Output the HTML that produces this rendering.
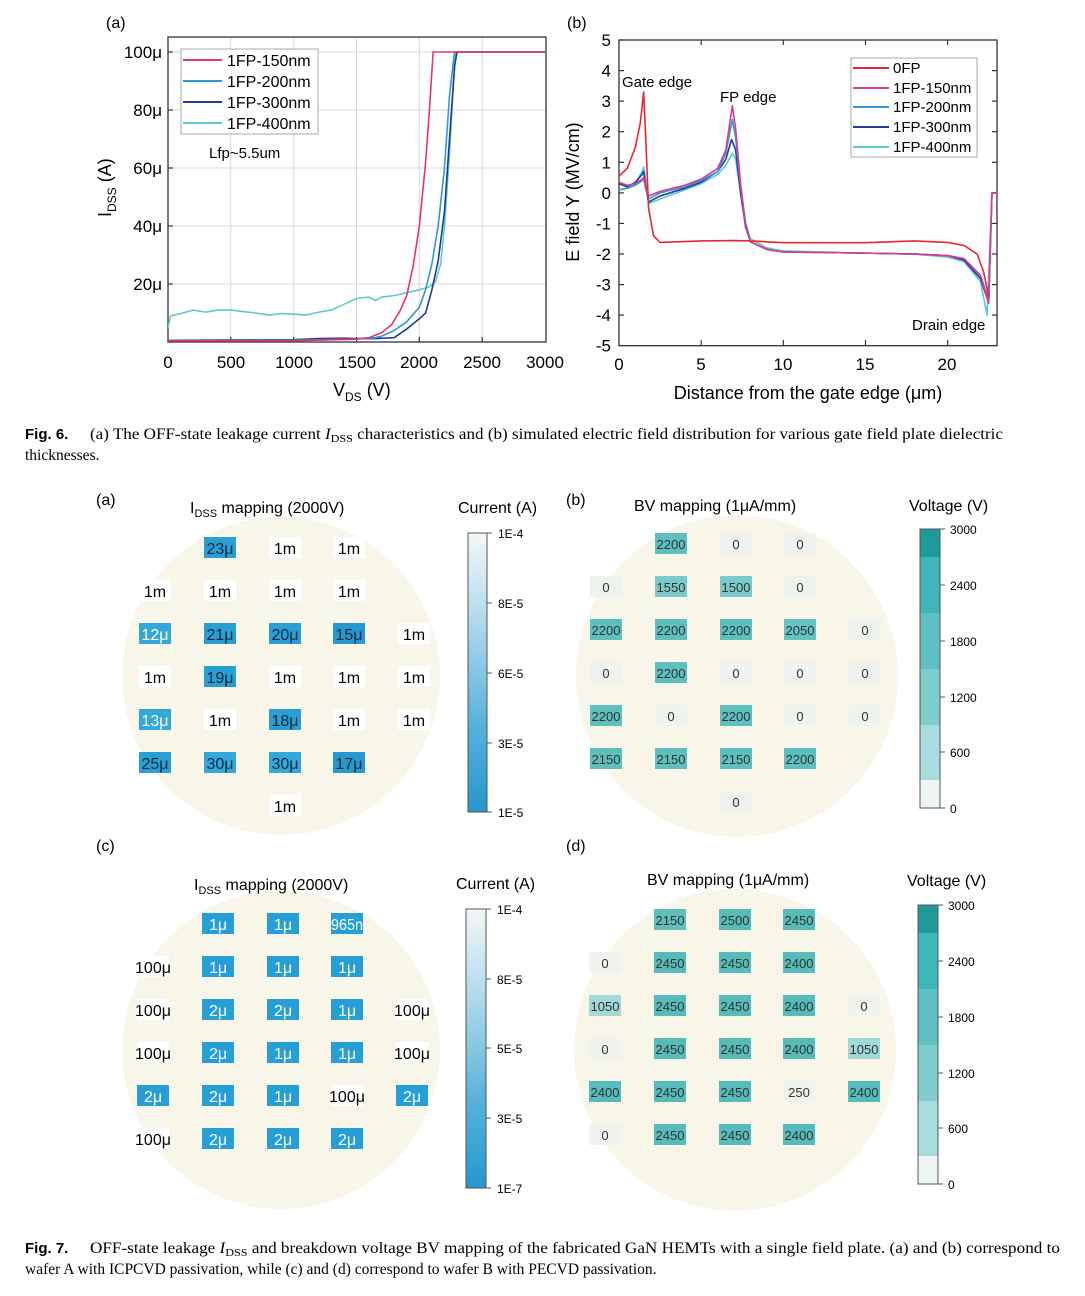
<!DOCTYPE html>
<html><head><meta charset="utf-8">
<style>
html,body{margin:0;padding:0;background:#fff;}
svg{display:block;}
text{font-family:"Liberation Sans",Arial,sans-serif;}
.serif{font-family:"Liberation Serif","Times New Roman",serif;}
</style></head>
<body>
<svg width="1085" height="1296" viewBox="0 0 1085 1296" xmlns="http://www.w3.org/2000/svg">
<defs>
<linearGradient id="gA" x1="0" y1="0" x2="0" y2="1">
<stop offset="0" stop-color="#f4f8f9"/><stop offset="0.35" stop-color="#a9d6ea"/><stop offset="0.7" stop-color="#54b1dc"/><stop offset="1" stop-color="#2597cf"/>
</linearGradient>
<clipPath id="cpA"><rect x="168" y="37" width="378" height="306"/></clipPath>
<clipPath id="cpB"><rect x="619" y="40" width="378" height="306"/></clipPath>
</defs>

<!-- ================= Fig 6 (a) ================= -->
<text x="106" y="28" font-size="16">(a)</text>
<g stroke="#d8d8d8" stroke-width="1">
<line x1="230.8" y1="37" x2="230.8" y2="342"/><line x1="293.7" y1="37" x2="293.7" y2="342"/><line x1="356.5" y1="37" x2="356.5" y2="342"/><line x1="419.3" y1="37" x2="419.3" y2="342"/><line x1="482.2" y1="37" x2="482.2" y2="342"/>
<line x1="168" y1="52" x2="546" y2="52"/><line x1="168" y1="110" x2="546" y2="110"/><line x1="168" y1="168" x2="546" y2="168"/><line x1="168" y1="226" x2="546" y2="226"/><line x1="168" y1="284" x2="546" y2="284"/>
</g>
<rect x="168" y="37" width="378" height="305" fill="none" stroke="#333" stroke-width="1.3"/>
<g stroke="#333" stroke-width="1.2">
<line x1="168" y1="52" x2="173" y2="52"/><line x1="168" y1="110" x2="173" y2="110"/><line x1="168" y1="168" x2="173" y2="168"/><line x1="168" y1="226" x2="173" y2="226"/><line x1="168" y1="284" x2="173" y2="284"/>
<line x1="230.8" y1="342" x2="230.8" y2="337"/><line x1="293.7" y1="342" x2="293.7" y2="337"/><line x1="356.5" y1="342" x2="356.5" y2="337"/><line x1="419.3" y1="342" x2="419.3" y2="337"/><line x1="482.2" y1="342" x2="482.2" y2="337"/>
</g>
<g font-size="17" text-anchor="end">
<text x="162" y="58">100μ</text><text x="162" y="116">80μ</text><text x="162" y="174">60μ</text><text x="162" y="232">40μ</text><text x="162" y="290">20μ</text>
</g>
<g font-size="17" text-anchor="middle">
<text x="168" y="368">0</text><text x="231" y="368">500</text><text x="294" y="368">1000</text><text x="357" y="368">1500</text><text x="419" y="368">2000</text><text x="482" y="368">2500</text><text x="545" y="368">3000</text>
</g>
<text x="333" y="396" font-size="18">V<tspan font-size="12" dy="5">DS</tspan><tspan dy="-5"> (V)</tspan></text>
<text transform="translate(111,217) rotate(-90)" font-size="18">I<tspan font-size="12" dy="5">DSS</tspan><tspan dy="-5"> (A)</tspan></text>

<g clip-path="url(#cpA)">
<g transform="translate(168,342) scale(0.12567,-2.9)" fill="none" stroke-width="1.6" stroke-linejoin="round">
<polyline vector-effect="non-scaling-stroke" stroke="#5ec8d0" points="0,5 20,9 100,9.8 200,11 300,10.3 400,11 500,11 600,10.5 700,10 800,9.3 900,9.8 1000,9.6 1100,9.3 1200,10.3 1300,11 1400,13 1500,15 1600,15.5 1650,14.3 1700,15.5 1800,16 1900,17 2000,18 2080,19 2130,21 2170,27 2200,40 2240,65 2270,88 2290,100 2400,100 3000,100"/>
<polyline vector-effect="non-scaling-stroke" stroke="#1f3b9c" points="0,0.6 1000,0.8 1200,1.2 1400,1.3 1500,1.2 1650,1.2 1800,1.5 1850,3 1900,4.5 2000,8 2050,10 2100,18 2150,28 2200,45 2240,70 2280,95 2300,100 3000,100"/>
<polyline vector-effect="non-scaling-stroke" stroke="#2e9ad6" points="0,0.5 1000,0.6 1500,1 1650,1.5 1700,2 1800,4 1900,7 2000,12 2050,18 2100,27 2150,40 2200,60 2240,85 2280,100 3000,100"/>
<polyline vector-effect="non-scaling-stroke" stroke="#e8336e" points="0,0.4 1000,0.4 1500,1 1600,1.5 1700,3.2 1780,6 1850,11 1900,16 1950,26 2000,40 2050,62 2080,80 2110,100 2300,100 2400,100 3000,100"/>
</g>
</g>
<rect x="181" y="49" width="137" height="85" fill="#fff" stroke="#aaa" stroke-width="1"/>
<g stroke-width="2">
<line x1="183" y1="60" x2="222" y2="60" stroke="#e8336e"/><line x1="183" y1="81" x2="222" y2="81" stroke="#2e9ad6"/><line x1="183" y1="102" x2="222" y2="102" stroke="#1f3b9c"/><line x1="183" y1="123" x2="222" y2="123" stroke="#5ec8d0"/>
</g>
<g font-size="16">
<text x="227" y="66">1FP-150nm</text><text x="227" y="87">1FP-200nm</text><text x="227" y="108">1FP-300nm</text><text x="227" y="129">1FP-400nm</text>
</g>
<text x="209" y="158" font-size="15">Lfp~5.5um</text>

<!-- ================= Fig 6 (b) ================= -->
<text x="567" y="28" font-size="16">(b)</text>
<rect x="619" y="40" width="378" height="305.7" fill="none" stroke="#333" stroke-width="1.3"/>
<g stroke="#333" stroke-width="1.2">
<line x1="619" y1="40" x2="624" y2="40"/><line x1="619" y1="70.6" x2="624" y2="70.6"/><line x1="619" y1="101.1" x2="624" y2="101.1"/><line x1="619" y1="131.7" x2="624" y2="131.7"/><line x1="619" y1="162.3" x2="624" y2="162.3"/><line x1="619" y1="192.9" x2="624" y2="192.9"/><line x1="619" y1="223.4" x2="624" y2="223.4"/><line x1="619" y1="254" x2="624" y2="254"/><line x1="619" y1="284.6" x2="624" y2="284.6"/><line x1="619" y1="315.1" x2="624" y2="315.1"/>
<line x1="997" y1="70.6" x2="992" y2="70.6"/><line x1="997" y1="101.1" x2="992" y2="101.1"/><line x1="997" y1="131.7" x2="992" y2="131.7"/><line x1="997" y1="162.3" x2="992" y2="162.3"/><line x1="997" y1="192.9" x2="992" y2="192.9"/><line x1="997" y1="223.4" x2="992" y2="223.4"/><line x1="997" y1="254" x2="992" y2="254"/><line x1="997" y1="284.6" x2="992" y2="284.6"/><line x1="997" y1="315.1" x2="992" y2="315.1"/>
<line x1="701.2" y1="345.7" x2="701.2" y2="340"/><line x1="783.3" y1="345.7" x2="783.3" y2="340"/><line x1="865.5" y1="345.7" x2="865.5" y2="340"/><line x1="947.6" y1="345.7" x2="947.6" y2="340"/>
<line x1="701.2" y1="40" x2="701.2" y2="45"/><line x1="783.3" y1="40" x2="783.3" y2="45"/><line x1="865.5" y1="40" x2="865.5" y2="45"/><line x1="947.6" y1="40" x2="947.6" y2="45"/>
</g>
<g font-size="17" text-anchor="end">
<text x="611" y="46">5</text><text x="611" y="76.6">4</text><text x="611" y="107.1">3</text><text x="611" y="137.7">2</text><text x="611" y="168.3">1</text><text x="611" y="198.9">0</text><text x="611" y="229.4">-1</text><text x="611" y="260">-2</text><text x="611" y="290.6">-3</text><text x="611" y="321.1">-4</text><text x="611" y="351.7">-5</text>
</g>
<g font-size="17" text-anchor="middle">
<text x="619" y="370">0</text><text x="701" y="370">5</text><text x="783" y="370">10</text><text x="865" y="370">15</text><text x="947" y="370">20</text>
</g>
<text x="808" y="399" font-size="18" text-anchor="middle">Distance from the gate edge (μm)</text>
<text transform="translate(579,192) rotate(-90)" font-size="18" text-anchor="middle">E field Y (MV/cm)</text>
<g clip-path="url(#cpB)">
<g transform="translate(619,192.9) scale(16.43,-30.57)" fill="none" stroke-width="1.6" stroke-linejoin="round">
<polyline vector-effect="non-scaling-stroke" stroke="#5ec8d0" points="0,0.1 0.5,0.15 1,0.3 1.4,0.7 1.5,0.85 1.6,0.5 1.8,-0.35 2.5,-0.2 4,0.1 5,0.3 6,0.6 6.5,0.9 6.9,1.3 7.1,1.1 7.4,0 7.7,-1.0 8,-1.5 9,-1.8 10,-1.9 15,-1.97 18,-2.0 20,-2.1 21,-2.25 22,-2.9 22.4,-4.0 22.7,0 23,0"/>
<polyline vector-effect="non-scaling-stroke" stroke="#1f3b9c" points="0,0.3 0.5,0.2 1,0.35 1.4,0.6 1.5,0.7 1.6,0.3 1.8,-0.3 2.5,-0.1 4,0.15 5,0.35 6,0.7 6.5,1.1 6.85,1.75 7.1,1.4 7.4,0 7.7,-1.1 8,-1.6 9,-1.85 10,-1.93 15,-1.97 18,-2.0 20,-2.05 21,-2.2 22,-2.8 22.5,-3.6 22.7,0 23,0"/>
<polyline vector-effect="non-scaling-stroke" stroke="#2e9ad6" points="0,0.1 0.5,0.15 1,0.25 1.4,0.4 1.5,0.5 1.6,0.2 1.8,-0.2 2.5,0 4,0.2 5,0.4 6,0.7 6.5,1.3 6.9,2.4 7.1,1.8 7.4,0.2 7.7,-1.0 8,-1.6 9,-1.85 10,-1.93 15,-1.97 18,-2.0 20,-2.05 21,-2.15 22,-2.7 22.5,-3.5 22.7,0 23,0"/>
<polyline vector-effect="non-scaling-stroke" stroke="#e03a8c" points="0,0.35 0.5,0.25 1,0.3 1.4,0.45 1.5,0.5 1.65,0.1 1.8,-0.1 2.5,0.05 4,0.25 5,0.45 6,0.8 6.5,1.4 6.9,2.85 7.1,2.1 7.4,0.3 7.7,-1.0 8,-1.6 9,-1.85 10,-1.93 15,-1.97 18,-2.0 20,-2.05 21,-2.15 22,-2.7 22.5,-3.6 22.7,0 23,0"/>
<polyline vector-effect="non-scaling-stroke" stroke="#e8282c" points="0,0.55 0.5,0.8 1,1.5 1.3,2.3 1.5,3.3 1.65,1.5 1.8,-0.5 2.1,-1.4 2.5,-1.62 5,-1.57 7,-1.56 8,-1.57 10,-1.63 15,-1.63 18,-1.57 20,-1.62 21,-1.72 21.8,-2.0 22.2,-2.6 22.5,-3.4"/>
</g>
</g>
<text x="622" y="87" font-size="15">Gate edge</text>
<text x="720" y="102" font-size="15">FP edge</text>
<text x="912" y="330" font-size="15">Drain edge</text>
<rect x="851" y="58" width="126" height="99" fill="#fff" stroke="#aaa" stroke-width="1"/>
<g stroke-width="2">
<line x1="853" y1="68" x2="889" y2="68" stroke="#e8282c"/><line x1="853" y1="88" x2="889" y2="88" stroke="#e03a8c"/><line x1="853" y1="107" x2="889" y2="107" stroke="#2e9ad6"/><line x1="853" y1="127" x2="889" y2="127" stroke="#1f3b9c"/><line x1="853" y1="147" x2="889" y2="147" stroke="#5ec8d0"/>
</g>
<g font-size="15">
<text x="893" y="73">0FP</text><text x="893" y="93">1FP-150nm</text><text x="893" y="112">1FP-200nm</text><text x="893" y="132">1FP-300nm</text><text x="893" y="152">1FP-400nm</text>
</g>

<!-- Caption Fig 6 -->
<text x="25" y="439" font-size="15" font-weight="bold">Fig. 6.</text>
<text class="serif" x="90" y="439" font-size="15.5" textLength="913" lengthAdjust="spacingAndGlyphs">(a) The OFF-state leakage current <tspan font-style="italic">I</tspan><tspan font-size="11" dy="3">DSS</tspan><tspan dy="-3"> characteristics and (b) simulated electric field distribution for various gate field plate dielectric</tspan></text>
<text class="serif" x="25" y="460" font-size="15.5">thicknesses.</text>

<!-- ================= Fig 7 ================= -->
<text x="96" y="505" font-size="16">(a)</text>
<text x="566" y="505" font-size="16">(b)</text>
<text x="96" y="851" font-size="16">(c)</text>
<text x="566" y="851" font-size="16">(d)</text>

<!-- wafers -->
<circle cx="281" cy="676" r="159" fill="#f8f6e8"/>
<circle cx="737" cy="676" r="161" fill="#f8f6e8"/>
<circle cx="281" cy="1050" r="159" fill="#f8f6e8"/>
<circle cx="735" cy="1050" r="161" fill="#f8f6e8"/>

<!-- titles -->
<text x="190" y="513" font-size="16">I<tspan font-size="11" dy="4">DSS</tspan><tspan dy="-4"> mapping (2000V)</tspan></text>
<text x="458" y="513" font-size="16">Current (A)</text>
<text x="634" y="511" font-size="16">BV mapping (1μA/mm)</text>
<text x="909" y="511" font-size="16">Voltage (V)</text>
<text x="194" y="890" font-size="16">I<tspan font-size="11" dy="4">DSS</tspan><tspan dy="-4"> mapping (2000V)</tspan></text>
<text x="456" y="889" font-size="16">Current (A)</text>
<text x="647" y="885" font-size="16">BV mapping (1μA/mm)</text>
<text x="907" y="886" font-size="16">Voltage (V)</text>

<!-- (a) cells -->
<g font-size="16" text-anchor="middle">
<rect x="204" y="537" width="32" height="21" fill="#2a9fd4"/><text x="220" y="554" fill="#0d2a3d">23μ</text>
<rect x="269" y="537" width="32" height="21" fill="#fff"/><text x="285" y="554">1m</text>
<rect x="333" y="537" width="32" height="21" fill="#fff"/><text x="349" y="554">1m</text>
<rect x="139" y="580" width="32" height="21" fill="#fff"/><text x="155" y="597">1m</text>
<rect x="204" y="580" width="32" height="21" fill="#fff"/><text x="220" y="597">1m</text>
<rect x="269" y="580" width="32" height="21" fill="#fff"/><text x="285" y="597">1m</text>
<rect x="333" y="580" width="32" height="21" fill="#fff"/><text x="349" y="597">1m</text>
<rect x="139" y="623" width="32" height="21" fill="#35a8db"/><text x="155" y="640" fill="#fff">12μ</text>
<rect x="204" y="623" width="32" height="21" fill="#2a9fd4"/><text x="220" y="640" fill="#0d2a3d">21μ</text>
<rect x="269" y="623" width="32" height="21" fill="#2a9fd4"/><text x="285" y="640" fill="#0d2a3d">20μ</text>
<rect x="333" y="623" width="32" height="21" fill="#2399d0"/><text x="349" y="640" fill="#0d2a3d">15μ</text>
<rect x="398" y="623" width="32" height="21" fill="#fff"/><text x="414" y="640">1m</text>
<rect x="139" y="666" width="32" height="21" fill="#fff"/><text x="155" y="683">1m</text>
<rect x="204" y="666" width="32" height="21" fill="#2a9fd4"/><text x="220" y="683" fill="#0d2a3d">19μ</text>
<rect x="269" y="666" width="32" height="21" fill="#fff"/><text x="285" y="683">1m</text>
<rect x="333" y="666" width="32" height="21" fill="#fff"/><text x="349" y="683">1m</text>
<rect x="398" y="666" width="32" height="21" fill="#fff"/><text x="414" y="683">1m</text>
<rect x="139" y="709" width="32" height="21" fill="#35a8db"/><text x="155" y="726" fill="#fff">13μ</text>
<rect x="204" y="709" width="32" height="21" fill="#fff"/><text x="220" y="726">1m</text>
<rect x="269" y="709" width="32" height="21" fill="#2a9fd4"/><text x="285" y="726" fill="#0d2a3d">18μ</text>
<rect x="333" y="709" width="32" height="21" fill="#fff"/><text x="349" y="726">1m</text>
<rect x="398" y="709" width="32" height="21" fill="#fff"/><text x="414" y="726">1m</text>
<rect x="139" y="752" width="32" height="21" fill="#2a9fd4"/><text x="155" y="769" fill="#0d2a3d">25μ</text>
<rect x="204" y="752" width="32" height="21" fill="#35a8db"/><text x="220" y="769" fill="#0d2a3d">30μ</text>
<rect x="269" y="752" width="32" height="21" fill="#35a8db"/><text x="285" y="769" fill="#0d2a3d">30μ</text>
<rect x="333" y="752" width="32" height="21" fill="#2399d0"/><text x="349" y="769" fill="#0d2a3d">17μ</text>
<rect x="269" y="795" width="32" height="21" fill="#fff"/><text x="285" y="812">1m</text>
</g>

<!-- (b) cells -->
<g font-size="13" text-anchor="middle" fill="#333">
<rect x="655" y="533" width="32" height="21" fill="#5dbfbf"/><text x="671" y="549">2200</text>
<rect x="720" y="533" width="32" height="21" fill="#eef3ee"/><text x="736" y="549">0</text>
<rect x="784" y="533" width="32" height="21" fill="#eef3ee"/><text x="800" y="549">0</text>
<rect x="590" y="576" width="32" height="21" fill="#eef3ee"/><text x="606" y="592">0</text>
<rect x="655" y="576" width="32" height="21" fill="#7ccbcb"/><text x="671" y="592">1550</text>
<rect x="720" y="576" width="32" height="21" fill="#7ccbcb"/><text x="736" y="592">1500</text>
<rect x="784" y="576" width="32" height="21" fill="#eef3ee"/><text x="800" y="592">0</text>
<rect x="590" y="619" width="32" height="21" fill="#5dbfbf"/><text x="606" y="635">2200</text>
<rect x="655" y="619" width="32" height="21" fill="#5dbfbf"/><text x="671" y="635">2200</text>
<rect x="720" y="619" width="32" height="21" fill="#5dbfbf"/><text x="736" y="635">2200</text>
<rect x="784" y="619" width="32" height="21" fill="#66c3c3"/><text x="800" y="635">2050</text>
<rect x="849" y="619" width="32" height="21" fill="#eef3ee"/><text x="865" y="635">0</text>
<rect x="590" y="662" width="32" height="21" fill="#eef3ee"/><text x="606" y="678">0</text>
<rect x="655" y="662" width="32" height="21" fill="#5dbfbf"/><text x="671" y="678">2200</text>
<rect x="720" y="662" width="32" height="21" fill="#eef3ee"/><text x="736" y="678">0</text>
<rect x="784" y="662" width="32" height="21" fill="#eef3ee"/><text x="800" y="678">0</text>
<rect x="849" y="662" width="32" height="21" fill="#eef3ee"/><text x="865" y="678">0</text>
<rect x="590" y="705" width="32" height="21" fill="#5dbfbf"/><text x="606" y="721">2200</text>
<rect x="655" y="705" width="32" height="21" fill="#eef3ee"/><text x="671" y="721">0</text>
<rect x="720" y="705" width="32" height="21" fill="#5dbfbf"/><text x="736" y="721">2200</text>
<rect x="784" y="705" width="32" height="21" fill="#eef3ee"/><text x="800" y="721">0</text>
<rect x="849" y="705" width="32" height="21" fill="#eef3ee"/><text x="865" y="721">0</text>
<rect x="590" y="748" width="32" height="21" fill="#5dbfbf"/><text x="606" y="764">2150</text>
<rect x="655" y="748" width="32" height="21" fill="#5dbfbf"/><text x="671" y="764">2150</text>
<rect x="720" y="748" width="32" height="21" fill="#5dbfbf"/><text x="736" y="764">2150</text>
<rect x="784" y="748" width="32" height="21" fill="#5dbfbf"/><text x="800" y="764">2200</text>
<rect x="720" y="791" width="32" height="21" fill="#eef3ee"/><text x="736" y="807">0</text>
</g>

<!-- (c) cells -->
<g font-size="16" text-anchor="middle">
<rect x="202" y="913" width="32" height="21" fill="#259fd6"/><text x="218" y="930" fill="#fff">1μ</text>
<rect x="267" y="913" width="32" height="21" fill="#259fd6"/><text x="283" y="930" fill="#fff">1μ</text>
<rect x="331" y="913" width="32" height="21" fill="#259fd6"/><text x="347" y="930" fill="#fff" textLength="32" lengthAdjust="spacingAndGlyphs">965n</text>
<rect x="137" y="956" width="32" height="21" fill="#fff"/><text x="153" y="973">100μ</text>
<rect x="202" y="956" width="32" height="21" fill="#259fd6"/><text x="218" y="973" fill="#fff">1μ</text>
<rect x="267" y="956" width="32" height="21" fill="#259fd6"/><text x="283" y="973" fill="#fff">1μ</text>
<rect x="331" y="956" width="32" height="21" fill="#259fd6"/><text x="347" y="973" fill="#fff">1μ</text>
<rect x="137" y="999" width="32" height="21" fill="#fff"/><text x="153" y="1016">100μ</text>
<rect x="202" y="999" width="32" height="21" fill="#259fd6"/><text x="218" y="1016" fill="#fff">2μ</text>
<rect x="267" y="999" width="32" height="21" fill="#259fd6"/><text x="283" y="1016" fill="#fff">2μ</text>
<rect x="331" y="999" width="32" height="21" fill="#259fd6"/><text x="347" y="1016" fill="#fff">1μ</text>
<rect x="396" y="999" width="32" height="21" fill="#fff"/><text x="412" y="1016">100μ</text>
<rect x="137" y="1042" width="32" height="21" fill="#fff"/><text x="153" y="1059">100μ</text>
<rect x="202" y="1042" width="32" height="21" fill="#259fd6"/><text x="218" y="1059" fill="#fff">2μ</text>
<rect x="267" y="1042" width="32" height="21" fill="#259fd6"/><text x="283" y="1059" fill="#fff">1μ</text>
<rect x="331" y="1042" width="32" height="21" fill="#259fd6"/><text x="347" y="1059" fill="#fff">1μ</text>
<rect x="396" y="1042" width="32" height="21" fill="#fff"/><text x="412" y="1059">100μ</text>
<rect x="137" y="1085" width="32" height="21" fill="#259fd6"/><text x="153" y="1102" fill="#fff">2μ</text>
<rect x="202" y="1085" width="32" height="21" fill="#259fd6"/><text x="218" y="1102" fill="#fff">2μ</text>
<rect x="267" y="1085" width="32" height="21" fill="#259fd6"/><text x="283" y="1102" fill="#fff">1μ</text>
<rect x="331" y="1085" width="32" height="21" fill="#fff"/><text x="347" y="1102">100μ</text>
<rect x="396" y="1085" width="32" height="21" fill="#259fd6"/><text x="412" y="1102" fill="#fff">2μ</text>
<rect x="137" y="1128" width="32" height="21" fill="#fff"/><text x="153" y="1145">100μ</text>
<rect x="202" y="1128" width="32" height="21" fill="#259fd6"/><text x="218" y="1145" fill="#fff">2μ</text>
<rect x="267" y="1128" width="32" height="21" fill="#259fd6"/><text x="283" y="1145" fill="#fff">2μ</text>
<rect x="331" y="1128" width="32" height="21" fill="#259fd6"/><text x="347" y="1145" fill="#fff">2μ</text>
</g>

<!-- (d) cells -->
<g font-size="13" text-anchor="middle" fill="#333">
<rect x="654" y="909" width="32" height="21" fill="#5dbfbf"/><text x="670" y="925">2150</text>
<rect x="719" y="909" width="32" height="21" fill="#55bcbb"/><text x="735" y="925">2500</text>
<rect x="783" y="909" width="32" height="21" fill="#55bcbb"/><text x="799" y="925">2450</text>
<rect x="589" y="952" width="32" height="21" fill="#eef3ee"/><text x="605" y="968">0</text>
<rect x="654" y="952" width="32" height="21" fill="#55bcbb"/><text x="670" y="968">2450</text>
<rect x="719" y="952" width="32" height="21" fill="#55bcbb"/><text x="735" y="968">2450</text>
<rect x="783" y="952" width="32" height="21" fill="#55bcbb"/><text x="799" y="968">2400</text>
<rect x="589" y="995" width="32" height="21" fill="#a2d9d7"/><text x="605" y="1011">1050</text>
<rect x="654" y="995" width="32" height="21" fill="#55bcbb"/><text x="670" y="1011">2450</text>
<rect x="719" y="995" width="32" height="21" fill="#55bcbb"/><text x="735" y="1011">2450</text>
<rect x="783" y="995" width="32" height="21" fill="#55bcbb"/><text x="799" y="1011">2400</text>
<rect x="848" y="995" width="32" height="21" fill="#eef3ee"/><text x="864" y="1011">0</text>
<rect x="589" y="1038" width="32" height="21" fill="#eef3ee"/><text x="605" y="1054">0</text>
<rect x="654" y="1038" width="32" height="21" fill="#55bcbb"/><text x="670" y="1054">2450</text>
<rect x="719" y="1038" width="32" height="21" fill="#55bcbb"/><text x="735" y="1054">2450</text>
<rect x="783" y="1038" width="32" height="21" fill="#55bcbb"/><text x="799" y="1054">2400</text>
<rect x="848" y="1038" width="32" height="21" fill="#a2d9d7"/><text x="864" y="1054">1050</text>
<rect x="589" y="1081" width="32" height="21" fill="#55bcbb"/><text x="605" y="1097">2400</text>
<rect x="654" y="1081" width="32" height="21" fill="#55bcbb"/><text x="670" y="1097">2450</text>
<rect x="719" y="1081" width="32" height="21" fill="#55bcbb"/><text x="735" y="1097">2450</text>
<rect x="783" y="1081" width="32" height="21" fill="#eef3ee"/><text x="799" y="1097">250</text>
<rect x="848" y="1081" width="32" height="21" fill="#55bcbb"/><text x="864" y="1097">2400</text>
<rect x="589" y="1124" width="32" height="21" fill="#eef3ee"/><text x="605" y="1140">0</text>
<rect x="654" y="1124" width="32" height="21" fill="#55bcbb"/><text x="670" y="1140">2450</text>
<rect x="719" y="1124" width="32" height="21" fill="#55bcbb"/><text x="735" y="1140">2450</text>
<rect x="783" y="1124" width="32" height="21" fill="#55bcbb"/><text x="799" y="1140">2400</text>
</g>

<!-- colorbar (a) -->
<rect x="468" y="533" width="19" height="279" fill="url(#gA)" stroke="#555" stroke-width="1"/>
<g stroke="#555"><line x1="487" y1="533" x2="492" y2="533"/><line x1="487" y1="603" x2="492" y2="603"/><line x1="487" y1="673" x2="492" y2="673"/><line x1="487" y1="743" x2="492" y2="743"/><line x1="487" y1="812" x2="492" y2="812"/></g>
<g font-size="12"><text x="498" y="538">1E-4</text><text x="498" y="608">8E-5</text><text x="498" y="678">6E-5</text><text x="498" y="748">3E-5</text><text x="498" y="817">1E-5</text></g>

<!-- colorbar (c) -->
<rect x="466" y="909" width="20" height="279" fill="url(#gA)" stroke="#555" stroke-width="1"/>
<g stroke="#555"><line x1="486" y1="909" x2="491" y2="909"/><line x1="486" y1="979" x2="491" y2="979"/><line x1="486" y1="1048" x2="491" y2="1048"/><line x1="486" y1="1118" x2="491" y2="1118"/><line x1="486" y1="1188" x2="491" y2="1188"/></g>
<g font-size="12"><text x="497" y="914">1E-4</text><text x="497" y="984">8E-5</text><text x="497" y="1053">5E-5</text><text x="497" y="1123">3E-5</text><text x="497" y="1193">1E-7</text></g>

<!-- colorbar (b) -->
<g>
<rect x="920" y="529" width="20" height="28" fill="#1e9b98"/>
<rect x="920" y="557" width="20" height="56" fill="#3eb6bb"/>
<rect x="920" y="613" width="20" height="56" fill="#5fc0c3"/>
<rect x="920" y="669" width="20" height="56" fill="#7fcccf"/>
<rect x="920" y="725" width="20" height="55" fill="#a9dcdf"/>
<rect x="920" y="780" width="20" height="28" fill="#eef5f5"/>
<rect x="920" y="529" width="20" height="279" fill="none" stroke="#555"/>
<g stroke="#555"><line x1="940" y1="529" x2="945" y2="529"/><line x1="940" y1="585" x2="945" y2="585"/><line x1="940" y1="641" x2="945" y2="641"/><line x1="940" y1="697" x2="945" y2="697"/><line x1="940" y1="752" x2="945" y2="752"/><line x1="940" y1="808" x2="945" y2="808"/></g>
<g font-size="12"><text x="950" y="534">3000</text><text x="950" y="590">2400</text><text x="950" y="646">1800</text><text x="950" y="702">1200</text><text x="950" y="757">600</text><text x="950" y="813">0</text></g>
</g>

<!-- colorbar (d) -->
<g>
<rect x="918" y="905" width="20" height="28" fill="#1e9b98"/>
<rect x="918" y="933" width="20" height="56" fill="#3eb6bb"/>
<rect x="918" y="989" width="20" height="56" fill="#5fc0c3"/>
<rect x="918" y="1045" width="20" height="56" fill="#7fcccf"/>
<rect x="918" y="1101" width="20" height="55" fill="#a9dcdf"/>
<rect x="918" y="1156" width="20" height="28" fill="#eef5f5"/>
<rect x="918" y="905" width="20" height="279" fill="none" stroke="#555"/>
<g stroke="#555"><line x1="938" y1="905" x2="943" y2="905"/><line x1="938" y1="961" x2="943" y2="961"/><line x1="938" y1="1017" x2="943" y2="1017"/><line x1="938" y1="1073" x2="943" y2="1073"/><line x1="938" y1="1128" x2="943" y2="1128"/><line x1="938" y1="1184" x2="943" y2="1184"/></g>
<g font-size="12"><text x="948" y="910">3000</text><text x="948" y="966">2400</text><text x="948" y="1022">1800</text><text x="948" y="1078">1200</text><text x="948" y="1133">600</text><text x="948" y="1189">0</text></g>
</g>

<!-- Caption Fig 7 -->
<text x="25" y="1253" font-size="15" font-weight="bold">Fig. 7.</text>
<text class="serif" x="90" y="1253" font-size="15.5" textLength="970" lengthAdjust="spacingAndGlyphs">OFF-state leakage <tspan font-style="italic">I</tspan><tspan font-size="11" dy="3">DSS</tspan><tspan dy="-3"> and breakdown voltage BV mapping of the fabricated GaN HEMTs with a single field plate. (a) and (b) correspond to</tspan></text>
<text class="serif" x="25" y="1274" font-size="15.5">wafer A with ICPCVD passivation, while (c) and (d) correspond to wafer B with PECVD passivation.</text>
</svg>
</body></html>
